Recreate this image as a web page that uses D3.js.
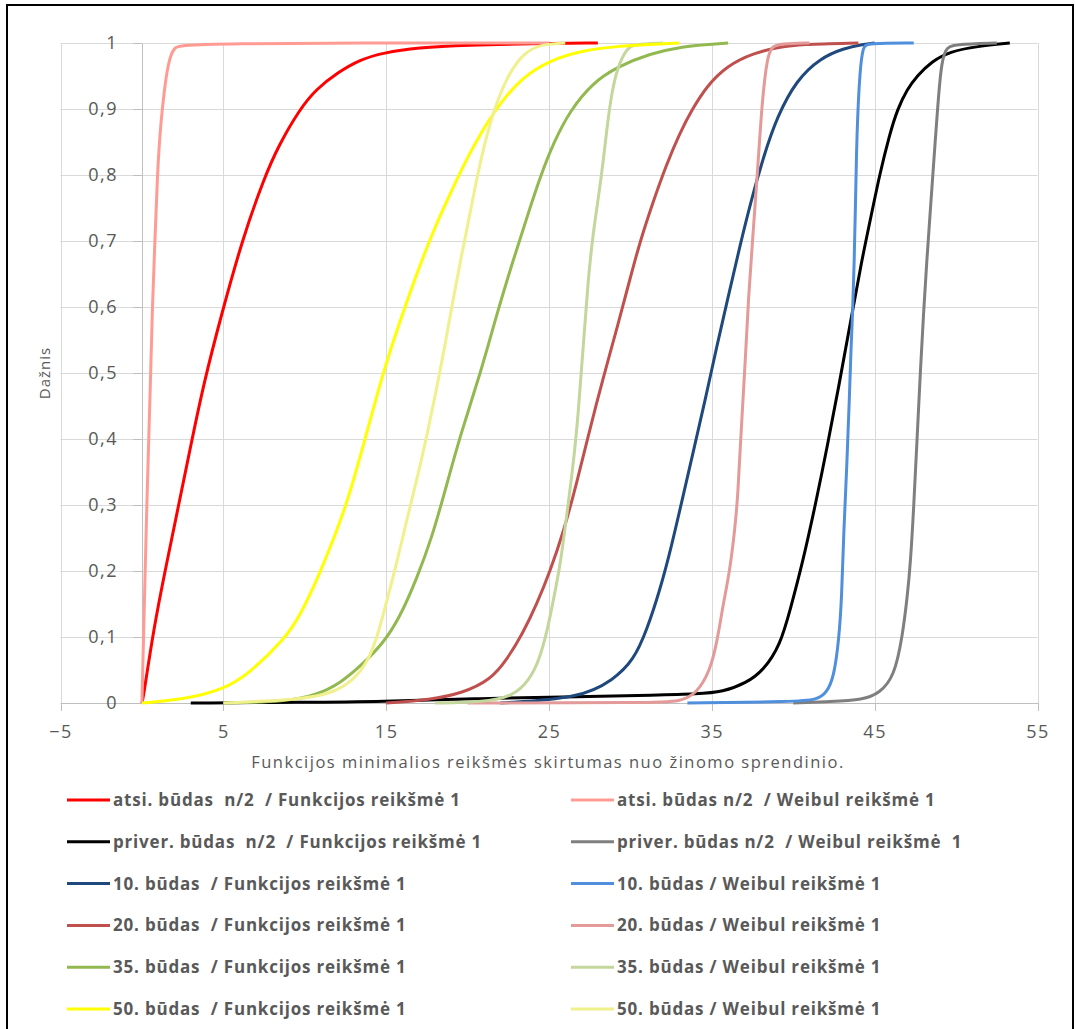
<!DOCTYPE html>
<html lang="lt">
  <head>
    <meta charset="utf-8"/>
    <script src="https://cdn.jsdelivr.net/npm/d3@7"></script>
    <style>
      body {
        margin: 0;
        background: #fff;
      }
      text {
        font-family: "Open Sans", sans-serif;
        fill: #595959;
      }
      .grid line {
        stroke: #d9d9d9;
        stroke-width: 1;
      }
      .axis path,
      .axis line {
        stroke: #bfbfbf;
        shape-rendering: crispEdges;
      }
      .axis text {
        font-size: 18px;
        letter-spacing: 1.5px;
      }
      .legend text {
        font-size: 17px;
        font-weight: bold;
        letter-spacing: 0.8px;
        white-space: pre;
      }
    </style>
  </head>
  <body>
    <script>
      // ---- data (x = skirtumas, y = dažnis) ----
      var atsiFuncX = [0, 0.1, 0.7, 1.5, 2.3, 3.0, 3.8, 4.9, 6.2, 7.5, 8.4, 9.7, 10.7, 12.0, 13.4, 14.8, 16.9, 20, 24, 28];
      var atsiFuncY = [0, 0.01, 0.11, 0.21, 0.305, 0.39, 0.485, 0.59, 0.705, 0.795, 0.845, 0.9, 0.93, 0.955, 0.975, 0.985, 0.993, 0.997, 0.999, 1];

      var atsiWeibX = [0, 0.05, 0.1, 0.2, 0.3, 0.42, 0.54, 0.64, 0.8, 0.95, 1.1, 1.25, 1.48, 1.73, 2.0, 2.45, 25];
      var atsiWeibY = [0, 0.05, 0.1, 0.2, 0.3, 0.4, 0.5, 0.6, 0.7, 0.8, 0.86, 0.9, 0.95, 0.98, 0.993, 1, 1];

      var priverFuncX = [3, 10, 14.6, 20.8, 26.9, 31.6, 34.1, 35.7, 37.1, 38.2, 39.2, 39.8, 40.6, 41.4, 42.1, 42.8, 43.5, 44.2, 44.8, 45.3, 45.9, 46.4, 47.0, 47.6, 48.5, 49.6, 51.3, 53.3];
      var priverFuncY = [0, 0.001, 0.002, 0.007, 0.0095, 0.012, 0.0136, 0.017, 0.03, 0.05, 0.088, 0.14, 0.215, 0.305, 0.39, 0.48, 0.575, 0.67, 0.74, 0.8, 0.86, 0.9, 0.93, 0.95, 0.972, 0.987, 0.995, 1];

      var priverWeibX = [40, 42.3, 44.3, 45.3, 46.2, 46.7, 47.0, 47.2, 47.4, 47.6, 47.8, 48.0, 48.2, 48.4, 48.6, 48.86, 49.07, 49.33, 49.84, 52.5];
      var priverWeibY = [0, 0.002, 0.005, 0.015, 0.04, 0.1, 0.16, 0.212, 0.297, 0.398, 0.5, 0.59, 0.67, 0.74, 0.81, 0.9, 0.964, 0.992, 0.998, 1];

      var b10FuncX = [22, 26.9, 28.96, 30.2, 31.0, 31.8, 32.5, 33.2, 33.9, 34.6, 35.3, 36.0, 36.7, 37.4, 38.2, 39.0, 40.2, 41.65, 43.1, 44.3, 45];
      var b10FuncY = [0, 0.007, 0.035, 0.065, 0.11, 0.17, 0.235, 0.31, 0.385, 0.46, 0.54, 0.615, 0.69, 0.76, 0.83, 0.888, 0.944, 0.977, 0.992, 0.998, 1];

      var b10WeibX = [33.5, 40.2, 41.45, 42.05, 42.5, 42.8, 42.98, 43.1, 43.3, 43.45, 43.55, 43.66, 43.74, 43.82, 43.9, 44.1, 44.3, 44.5, 47.4];
      var b10WeibY = [0, 0.002, 0.005, 0.015, 0.04, 0.095, 0.16, 0.262, 0.363, 0.464, 0.54, 0.6, 0.666, 0.75, 0.863, 0.964, 0.994, 1, 1];

      var b20FuncX = [15, 17.7, 19.7, 21.4, 22.4, 23.4, 24.25, 25.07, 25.9, 26.7, 27.5, 28.3, 29.2, 30.0, 30.6, 31.4, 32.2, 33.0, 33.8, 34.7, 35.9, 37.55, 39.2, 40.4, 44];
      var b20FuncY = [0, 0.005, 0.015, 0.035, 0.065, 0.106, 0.15, 0.2, 0.26, 0.333, 0.414, 0.49, 0.57, 0.645, 0.7, 0.76, 0.815, 0.862, 0.9, 0.935, 0.965, 0.985, 0.994, 0.998, 1];

      var b20WeibX = [20, 31.4, 33.05, 34.1, 34.9, 35.3, 35.7, 36.1, 36.4, 36.6, 36.8, 37.05, 37.25, 37.5, 37.7, 37.9, 38.1, 38.4, 38.7, 39.2, 41];
      var b20WeibY = [0, 0.0005, 0.002, 0.015, 0.05, 0.09, 0.15, 0.2, 0.26, 0.313, 0.414, 0.515, 0.616, 0.7, 0.77, 0.84, 0.914, 0.979, 0.995, 0.999, 1];

      var b35FuncX = [5, 8.9, 10.7, 12.2, 13.6, 14.8, 15.85, 16.9, 17.8, 18.6, 19.6, 20.8, 21.8, 22.8, 23.7, 24.5, 25.3, 26.3, 27.7, 29.2, 31.2, 33.25, 34.9, 36];
      var b35FuncY = [0, 0.002, 0.012, 0.03, 0.06, 0.09, 0.13, 0.19, 0.25, 0.32, 0.41, 0.5, 0.59, 0.671, 0.74, 0.8, 0.85, 0.898, 0.94, 0.964, 0.984, 0.995, 0.998, 1];

      var b35WeibX = [18, 20.8, 22.8, 23.8, 24.4, 24.9, 25.3, 25.7, 26.1, 26.5, 26.8, 27.1, 27.4, 27.7, 28.0, 28.3, 28.75, 29.2, 29.8, 30.2, 32];
      var b35WeibY = [0, 0.001, 0.0095, 0.035, 0.065, 0.11, 0.16, 0.21, 0.287, 0.363, 0.439, 0.54, 0.641, 0.71, 0.76, 0.813, 0.914, 0.964, 0.992, 0.998, 1];

      var b50FuncX = [0, 2.5, 5, 6.6, 8.7, 9.7, 10.9, 11.75, 12.6, 13.6, 14.8, 15.8, 16.8, 17.8, 18.9, 19.95, 20.97, 22.0, 23.4, 25.07, 27.1, 29.2, 31.2, 33];
      var b50FuncY = [0, 0.005, 0.02, 0.045, 0.095, 0.131, 0.195, 0.247, 0.303, 0.39, 0.5, 0.575, 0.645, 0.71, 0.77, 0.825, 0.87, 0.909, 0.949, 0.974, 0.989, 0.995, 0.998, 1];

      var b50WeibX = [5, 9.7, 11.75, 13.0, 13.8, 14.4, 15.0, 15.65, 16.26, 16.9, 17.5, 18.05, 18.6, 19.1, 19.6, 20.1, 20.6, 21.4, 22.4, 23.4, 24.45, 26];
      var b50WeibY = [0, 0.005, 0.015, 0.035, 0.06, 0.095, 0.151, 0.212, 0.277, 0.34, 0.405, 0.47, 0.54, 0.61, 0.675, 0.735, 0.8, 0.885, 0.949, 0.984, 0.998, 1];

      var seriesNames = [
        "atsi. būdas  n/2  / Funkcijos reikšmė 1",
        "atsi. būdas n/2  / Weibul reikšmė 1",
        "priver. būdas  n/2  / Funkcijos reikšmė 1",
        "priver. būdas n/2  / Weibul reikšmė  1",
        "10. būdas  / Funkcijos reikšmė 1",
        "10. būdas / Weibul reikšmė 1",
        "20. būdas  / Funkcijos reikšmė 1",
        "20. būdas / Weibul reikšmė 1",
        "35. būdas  / Funkcijos reikšmė 1",
        "35. būdas / Weibul reikšmė 1",
        "50. būdas  / Funkcijos reikšmė 1",
        "50. būdas / Weibul reikšmė 1"
      ];

      var xTicks = [-5, 5, 15, 25, 35, 45, 55];
      var yTicks = [0, 0.1, 0.2, 0.3, 0.4, 0.5, 0.6, 0.7, 0.8, 0.9, 1];
      var yTickLabels = ["0", "0,1", "0,2", "0,3", "0,4", "0,5", "0,6", "0,7", "0,8", "0,9", "1"];

      var xTitle = "Funkcijos minimalios reikšmės skirtumas nuo žinomo sprendinio.";
      var yTitle = "Dažnis";

      // build series table (data + looks)
      var xs = [atsiFuncX, atsiWeibX, priverFuncX, priverWeibX, b10FuncX, b10WeibX,
                b20FuncX, b20WeibX, b35FuncX, b35WeibX, b50FuncX, b50WeibX];
      var ys = [atsiFuncY, atsiWeibY, priverFuncY, priverWeibY, b10FuncY, b10WeibY,
                b20FuncY, b20WeibY, b35FuncY, b35WeibY, b50FuncY, b50WeibY];
      var colors = ["#ff0000", "#ff9b93", "#000000", "#7f7f7f", "#1f497d", "#4f8fdc",
                    "#c0504d", "#e39a98", "#92b850", "#c3d69b", "#ffff00", "#f0f08c"];

      var series = seriesNames.map(function(name, i) {
        return {
          name: name,
          color: colors[i],
          points: xs[i].map(function(v, j) { return [v, ys[i][j]]; })
        };
      });

      var w = 1076;
      var h = 1029;

      var svg = d3.select("body")
                  .append("svg")
                  .attr("width", w)
                  .attr("height", h);

      // outer frame of the chart
      svg.append("rect")
         .attr("x", 7)
         .attr("y", 5)
         .attr("width", 1066)
         .attr("height", 1040)
         .attr("fill", "#fff")
         .attr("stroke", "#000")
         .attr("stroke-width", 2);

      var xScale = d3.scaleLinear()
                     .domain([-5, 55])
                     .range([60.5, 1037.5]);
      var yScale = d3.scaleLinear()
                     .domain([0, 1])
                     .range([703, 43]);

      // gridlines
      var grid = svg.append("g").attr("class", "grid");
      grid.selectAll(".hline")
          .data(yTicks)
          .enter()
          .append("line")
          .attr("x1", xScale(-5))
          .attr("x2", xScale(55))
          .attr("y1", function(d) { return Math.round(yScale(d)) + 0.5; })
          .attr("y2", function(d) { return Math.round(yScale(d)) + 0.5; });
      grid.selectAll(".vline")
          .data(xTicks)
          .enter()
          .append("line")
          .attr("x1", function(d) { return Math.round(xScale(d)) + 0.5; })
          .attr("x2", function(d) { return Math.round(xScale(d)) + 0.5; })
          .attr("y1", yScale(1))
          .attr("y2", yScale(0));

      // x axis (at y = 0)
      var xAxis = d3.axisBottom(xScale)
                    .tickValues(xTicks)
                    .tickSize(8)
                    .tickPadding(14)
                    .tickSizeOuter(0);
      svg.append("g")
         .attr("class", "axis")
         .attr("transform", "translate(0," + Math.round(yScale(0)) + ")")
         .call(xAxis);

      // y axis (crosses at x = 0)
      var yAxis = d3.axisLeft(yScale)
                    .tickValues(yTicks)
                    .tickFormat(function(d, i) { return yTickLabels[i]; })
                    .tickSize(9)
                    .tickPadding(15)
                    .tickSizeOuter(0);
      svg.append("g")
         .attr("class", "axis")
         .attr("transform", "translate(" + Math.round(xScale(0)) + ",0)")
         .call(yAxis);

      svg.selectAll(".axis text").attr("fill", "#595959");

      // curves
      var line = d3.line()
                   .x(function(d) { return xScale(d[0]); })
                   .y(function(d) { return yScale(d[1]); })
                   .curve(d3.curveBasis);

      svg.append("g")
         .selectAll("path")
         .data(series)
         .enter()
         .append("path")
         .attr("d", function(d) { return line(d.points); })
         .attr("fill", "none")
         .attr("stroke", function(d) { return d.color; })
         .attr("stroke-width", 3)
         .attr("stroke-linejoin", "round");

      // axis titles
      svg.append("text")
         .attr("x", 548)
         .attr("y", 768)
         .attr("text-anchor", "middle")
         .attr("font-size", "16.5px")
         .attr("letter-spacing", "1.5px")
         .text(xTitle);

      svg.append("text")
         .attr("transform", "translate(50,373) rotate(-90)")
         .attr("text-anchor", "middle")
         .attr("font-size", "15px")
         .attr("letter-spacing", "1px")
         .text(yTitle);

      // legend, two columns, row by row
      var legend = svg.append("g").attr("class", "legend");
      var items = legend.selectAll("g")
                        .data(series)
                        .enter()
                        .append("g")
                        .attr("transform", function(d, i) {
                          var col = i % 2;
                          var row = Math.floor(i / 2);
                          return "translate(" + (col ? 571 : 67) + "," + (800 + row * 41.8) + ")";
                        });
      items.append("line")
           .attr("x1", 0)
           .attr("x2", 43)
           .attr("stroke", function(d) { return d.color; })
           .attr("stroke-width", 3);
      items.append("text")
           .attr("x", 46)
           .attr("dy", "0.35em")
           .text(function(d) { return d.name; });
    </script>
  </body>
</html>
